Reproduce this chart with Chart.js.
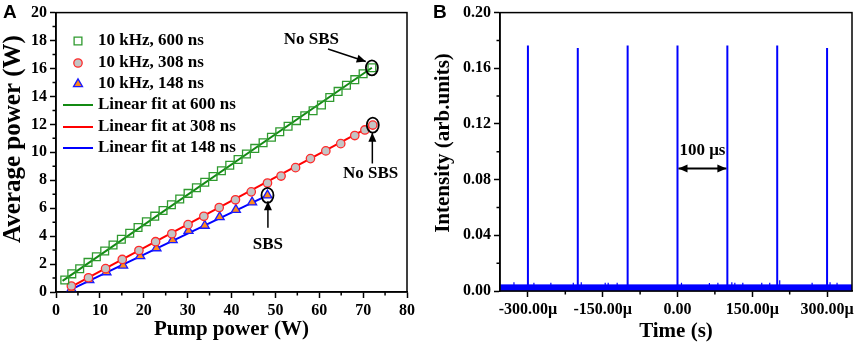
<!DOCTYPE html>
<html>
<head>
<meta charset="utf-8">
<script src="https://cdn.jsdelivr.net/npm/chart.js@4.4.1/dist/chart.umd.min.js"></script>
<style>
  body { margin: 0; background: #fff; }
  #wrap { position: relative; width: 858px; height: 348px; }
  #cA { position: absolute; left: 0; top: 0; }
  #cB { position: absolute; left: 430px; top: 0; }
</style>
</head>
<body>
<div id="wrap">
  <canvas id="cA" width="430" height="348"></canvas>
  <canvas id="cB" width="428" height="348"></canvas>
</div>
<script>
// ---------- panel A: average power vs pump power ----------
const pump600 = [2, 3.6, 5.4, 7.3, 9.2, 11.1, 13.0, 14.9, 16.8, 18.7, 20.6, 22.5, 24.4, 26.3, 28.2, 30.1, 32.0, 33.9, 35.8, 37.7,
  39.6, 41.5, 43.4, 45.3, 47.2, 49.1, 51.0, 52.9, 54.8, 56.7, 58.6, 60.5, 62.4, 64.3, 66.2, 68.1, 70.0, 72.0];
const avg600 = [0.86, 1.3, 1.66, 2.12, 2.52, 2.94, 3.36, 3.78, 4.2, 4.62, 5.03, 5.43, 5.84, 6.25, 6.66, 7.06, 7.46, 7.86, 8.27, 8.68,
  9.07, 9.48, 9.88, 10.28, 10.68, 11.08, 11.47, 11.87, 12.27, 12.62, 12.98, 13.38, 13.92, 14.36, 14.8, 15.2, 15.62, 16.05];
const pump308 = [3.5, 7.4, 11.3, 15.1, 18.9, 22.7, 26.4, 30.1, 33.7, 37.2, 40.9, 44.5, 48.2, 51.3, 54.6, 58.0, 61.5, 64.9, 68.1, 70.4, 72.2];
const avg308 = [0.43, 1.02, 1.67, 2.33, 2.97, 3.6, 4.17, 4.82, 5.42, 6.05, 6.6, 7.17, 7.8, 8.3, 8.9, 9.55, 10.1, 10.62, 11.2, 11.6, 11.95];
const pump148 = [3.5, 7.6, 11.5, 15.3, 19.2, 22.9, 26.6, 30.2, 33.9, 37.3, 41.0, 44.7, 48.2];
const avg148 = [0.22, 0.86, 1.42, 1.9, 2.57, 3.14, 3.72, 4.38, 4.75, 5.36, 5.88, 6.42, 6.92];

// linear fit end points
const fit600X = [1.5, 72.0], fit600Y = [0.8, 16.05];
const fit308X = [3.0, 72.2], fit308Y = [0.3, 11.95];
const fit148X = [3.0, 48.2], fit148Y = [0.12, 6.92];

const xTicksA = [0, 10, 20, 30, 40, 50, 60, 70, 80];
const yTicksA = [0, 2, 4, 6, 8, 10, 12, 14, 16, 18, 20];
const legendA = ['10 kHz, 600 ns', '10 kHz, 308 ns', '10 kHz, 148 ns',
  'Linear fit at 600 ns', 'Linear fit at 308 ns', 'Linear fit at 148 ns'];

// ---------- panel B: pulse train ----------
const pulseT = [-300, -200, -100, 0, 100, 200, 300];            // µs
const pulseH = [0.1763, 0.1745, 0.1763, 0.1763, 0.1763, 0.1763, 0.1745];
const spikeT = [-328, -288, -254, -209, -193, -145, -139, -121, 8, 64, 81, 109, 115, 131, 169, 185, 205, 270, 306, 320];
const spikeH = [0.0062, 0.006, 0.006, 0.006, 0.0062, 0.006, 0.006, 0.006, 0.006, 0.0058, 0.006, 0.0062, 0.006, 0.006,
  0.006, 0.006, 0.0078, 0.006, 0.0062, 0.006];
const noiseTop = 0.0044;
const timeRange = [-356, 350];
const xTicksB = [-300, -150, 0, 150, 300];
const yTicksB = [0, 0.04, 0.08, 0.12, 0.16, 0.2];

const serif = "'Liberation Serif', 'Times New Roman', serif";
Chart.defaults.font.family = serif;
Chart.defaults.font.weight = 'bold';
Chart.defaults.font.size = 16;
Chart.defaults.color = '#000';

const pts = (xs, ys) => xs.map((v, i) => ({ x: v, y: ys[i] }));

function minorValues(scale, step) {
  const major = scale.ticks.map(t => t.value);
  const out = [];
  for (let k = Math.ceil(scale.min / step - 1e-6); k * step <= scale.max + 1e-9; k++) {
    const v = k * step;
    if (!major.some(m => Math.abs(m - v) < step * 1e-3)) out.push(v);
  }
  return out;
}

function arrow(ctx, x1, y1, x2, y2, both) {
  const head = (ax, ay, bx, by) => {
    const ang = Math.atan2(by - ay, bx - ax);
    ctx.beginPath();
    ctx.moveTo(bx, by);
    ctx.lineTo(bx - 9 * Math.cos(ang) + 4 * Math.sin(ang), by - 9 * Math.sin(ang) - 4 * Math.cos(ang));
    ctx.lineTo(bx - 9 * Math.cos(ang) - 4 * Math.sin(ang), by - 9 * Math.sin(ang) + 4 * Math.cos(ang));
    ctx.closePath();
    ctx.fill();
  };
  ctx.beginPath();
  ctx.moveTo(x1, y1);
  ctx.lineTo(x2, y2);
  ctx.stroke();
  head(x1, y1, x2, y2);
  if (both) head(x2, y2, x1, y1);
}

function decor(cfg) {
  return {
    id: 'decor' + cfg.letter,
    afterDatasetsDraw(chart) {
      if (cfg.annotate) cfg.annotate(chart);
    },
    afterDraw(chart) {
      const { ctx, chartArea: a, scales: { x, y } } = chart;
      ctx.save();
      ctx.strokeStyle = '#000';
      ctx.lineWidth = 1.5;
      ctx.strokeRect(a.left, a.top, a.right - a.left, a.bottom - a.top);
      ctx.beginPath();
      minorValues(x, cfg.minorX).forEach(v => {
        const p = x.getPixelForValue(v);
        ctx.moveTo(p, a.bottom); ctx.lineTo(p, a.bottom + 3.5);
      });
      minorValues(y, cfg.minorY).forEach(v => {
        const p = y.getPixelForValue(v);
        ctx.moveTo(a.left, p); ctx.lineTo(a.left - 3.5, p);
      });
      ctx.stroke();
      ctx.fillStyle = '#000';
      ctx.font = `bold ${cfg.yTitleSize}px ${serif}`;
      ctx.textAlign = 'center';
      ctx.textBaseline = 'middle';
      ctx.translate(13.5, cfg.yTitleY);
      ctx.rotate(-Math.PI / 2);
      ctx.fillText(cfg.yTitle, 0, 0);
      ctx.restore();

      ctx.save();
      ctx.fillStyle = '#000';
      ctx.font = "bold 19px 'Liberation Sans', Arial, sans-serif";
      ctx.textAlign = 'left';
      ctx.textBaseline = 'middle';
      ctx.fillText(cfg.letter, 3, 13);
      ctx.restore();
    }
  };
}

function axis(ticks, min, max, size, cb, titleText, titlePad) {
  return {
    type: 'linear', min, max,
    afterBuildTicks: s => { s.ticks = ticks.map(v => ({ value: v })); },
    afterFit: s => { if (s.isHorizontal()) s.height = size; else s.width = size; },
    grid: { drawOnChartArea: false, drawTicks: true, tickLength: 6, tickWidth: 1.5, tickColor: '#000' },
    border: { color: '#000', width: 1.5 },
    ticks: { padding: titleText ? 3 : 3, maxRotation: 0, autoSkip: false, font: { size: 16, weight: 'bold' }, callback: cb },
    title: titleText ? { display: true, text: titleText, font: { size: 21, weight: 'bold' }, padding: { top: 0, bottom: titlePad } } : { display: false }
  };
}

// ---------- chart A ----------
const green = '#2f9a2f', greenLine = '#138a13';
new Chart(document.getElementById('cA'), {
  type: 'scatter',
  data: {
    datasets: [
      { label: legendA[0], data: pts(pump600, avg600), pointStyle: 'rect', pointRadius: 5.5, borderWidth: 1.3,
        borderColor: green, backgroundColor: 'rgba(0,0,0,0)' },
      { label: legendA[1], data: pts(pump308, avg308), pointStyle: 'circle', pointRadius: 4.2, borderWidth: 1.3,
        borderColor: '#ff2a2a', backgroundColor: '#c4c4c4' },
      { label: legendA[2], data: pts(pump148, avg148), pointStyle: 'triangle', pointRadius: 5.2, borderWidth: 1.3,
        borderColor: '#1a1aff', backgroundColor: '#ff8a1c' },
      { label: legendA[3], type: 'line', data: pts(fit600X, fit600Y), showLine: true, pointRadius: 0,
        borderColor: greenLine, borderWidth: 2 },
      { label: legendA[4], type: 'line', data: pts(fit308X, fit308Y), showLine: true, pointRadius: 0,
        borderColor: '#ff0000', borderWidth: 2 },
      { label: legendA[5], type: 'line', data: pts(fit148X, fit148Y), showLine: true, pointRadius: 0,
        borderColor: '#0000ff', borderWidth: 2 }
    ]
  },
  options: {
    responsive: false, animation: false, events: [],
    layout: { padding: { top: 12, right: 23, left: 0, bottom: 0 } },
    plugins: { legend: { display: false }, tooltip: { enabled: false } },
    scales: {
      x: axis(xTicksA, 0, 80, 56, v => String(v), 'Pump power (W)', 6),
      y: axis(yTicksA, 0, 20, 56, v => String(v))
    }
  },
  plugins: [decor({
    letter: 'A', minorX: 5, minorY: 1, yTitle: 'Average power (W)', yTitleSize: 25, yTitleY: 139,
    annotate(chart) {
      const { ctx, scales: { x, y } } = chart;
      const px = v => x.getPixelForValue(v), py = v => y.getPixelForValue(v);
      ctx.save();
      ctx.strokeStyle = '#000';
      ctx.fillStyle = '#000';
      ctx.lineWidth = 1.8;
      [[pump600, avg600], [pump308, avg308], [pump148, avg148]].forEach(([xs, ys]) => {
        ctx.beginPath();
        ctx.ellipse(px(xs[xs.length - 1]), py(ys[ys.length - 1]), 6, 7.5, 0, 0, Math.PI * 2);
        ctx.stroke();
      });
      ctx.lineWidth = 1.5;
      arrow(ctx, px(62.0), py(17.4), px(70.6), py(16.5));
      arrow(ctx, px(72.1), py(9.2), px(72.1), py(11.4));
      arrow(ctx, px(48.3), py(4.6), px(48.3), py(6.5));
      ctx.font = `bold 17px ${serif}`;
      ctx.textAlign = 'center';
      ctx.textBaseline = 'middle';
      ctx.fillText('No SBS', px(58.2), py(18.1));
      ctx.fillText('No SBS', px(71.7), py(8.5));
      ctx.fillText('SBS', px(48.3), py(3.4));

      // legend
      const rows = [41, 63, 84, 105, 127, 148];
      chart.data.datasets.forEach((ds, i) => {
        const ry = rows[i];
        if (ds.type === 'line') {
          ctx.strokeStyle = ds.borderColor;
          ctx.lineWidth = 2;
          ctx.beginPath(); ctx.moveTo(63, ry); ctx.lineTo(93, ry); ctx.stroke();
        } else {
          ctx.strokeStyle = ds.borderColor;
          ctx.fillStyle = ds.backgroundColor;
          ctx.lineWidth = ds.borderWidth;
          Chart.helpers.drawPoint(ctx, { pointStyle: ds.pointStyle, radius: ds.pointRadius, rotation: 0, borderWidth: ds.borderWidth }, 78, ry);
        }
        ctx.fillStyle = '#000';
        ctx.textAlign = 'left';
        ctx.fillText(ds.label, 98, ry);
      });
      ctx.restore();
    }
  })]
});

// ---------- chart B ----------
const pulseData = [];
pulseT.forEach((t, i) => {
  pulseData.push({ x: t, y: noiseTop }, { x: t, y: pulseH[i] }, { x: t, y: noiseTop }, { x: t, y: null });
});
const spikeData = [];
spikeT.forEach((t, i) => {
  spikeData.push({ x: t, y: noiseTop }, { x: t, y: spikeH[i] }, { x: t, y: null });
});
const fmtTime = v => (v === 0 ? '0.00' : v.toFixed(2) + 'µ');

new Chart(document.getElementById('cB'), {
  type: 'line',
  data: {
    datasets: [
      { data: pulseData, borderColor: '#0000ff', borderWidth: 2, pointRadius: 0, spanGaps: false },
      { data: spikeData, borderColor: '#0000ff', borderWidth: 1.2, pointRadius: 0, spanGaps: false },
      { data: [{ x: timeRange[0], y: noiseTop }, { x: timeRange[1], y: noiseTop }], borderColor: '#0000ff',
        borderWidth: 1, pointRadius: 0, fill: 'origin', backgroundColor: '#0000ff' }
    ]
  },
  options: {
    responsive: false, animation: false, events: [],
    layout: { padding: { top: 12, right: 6, left: 0, bottom: 0 } },
    plugins: { legend: { display: false }, tooltip: { enabled: false } },
    scales: {
      x: axis(xTicksB, timeRange[0], timeRange[1], 57, fmtTime, 'Time (s)', 4),
      y: axis(yTicksB, 0, 0.2, 70, v => v.toFixed(2))
    }
  },
  plugins: [decor({
    letter: 'B', minorX: 75, minorY: 0.02, yTitle: 'Intensity (arb.units)', yTitleSize: 21, yTitleY: 143,
    annotate(chart) {
      const { ctx, scales: { x, y } } = chart;
      ctx.save();
      ctx.strokeStyle = '#000';
      ctx.fillStyle = '#000';
      ctx.lineWidth = 1.8;
      arrow(ctx, x.getPixelForValue(0) + 1, y.getPixelForValue(0.088), x.getPixelForValue(100) - 1, y.getPixelForValue(0.088), true);
      ctx.font = `bold 17px ${serif}`;
      ctx.textAlign = 'center';
      ctx.textBaseline = 'middle';
      ctx.fillText('100 μs', x.getPixelForValue(50), y.getPixelForValue(0.101));
      ctx.restore();
    }
  })]
});
</script>
</body>
</html>
